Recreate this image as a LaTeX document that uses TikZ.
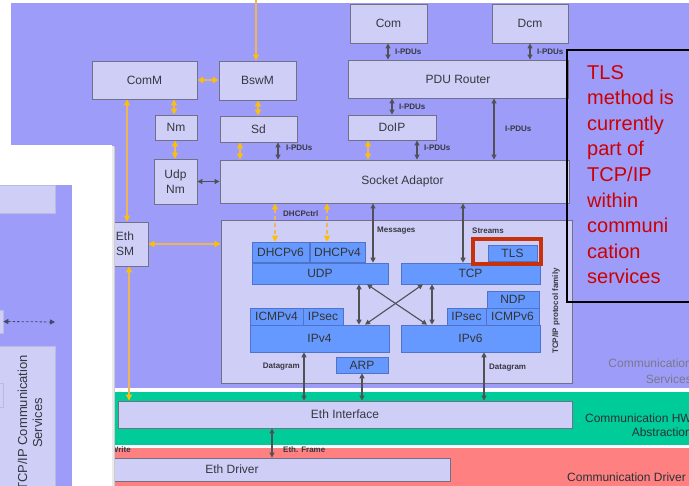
\documentclass[tikz,border=0pt]{standalone}
\usepackage{fontspec}
\setmainfont{Liberation Sans}
\usetikzlibrary{arrows.meta,fit}
\definecolor{bgp}{RGB}{157,157,249}
\definecolor{lav}{RGB}{206,206,247}
\definecolor{bdr}{RGB}{112,112,135}
\definecolor{pblue}{RGB}{102,153,255}
\definecolor{pbdr}{RGB}{80,115,200}
\definecolor{grn}{RGB}{0,204,153}
\definecolor{pnk}{RGB}{255,128,128}
\definecolor{org}{RGB}{255,192,0}
\definecolor{orgl}{RGB}{238,180,85}
\definecolor{dgr}{RGB}{80,80,85}
\definecolor{tlsr}{RGB}{200,50,10}
\definecolor{notered}{RGB}{204,0,0}
\definecolor{txt}{RGB}{55,55,65}
\definecolor{svc}{RGB}{120,120,140}
\definecolor{dk}{RGB}{40,50,55}
\definecolor{dsh}{RGB}{60,75,110}
\newcommand\mkbox[7]{\node[#6, minimum width={(#4-#2)*1pt}, minimum height={(#5-#3)*1pt}] (#1) at ({(#2+#4)/2},{(#3+#5)/2}) {#7};}
\begin{document}
\begin{tikzpicture}[x=1pt,y=-1pt,
  lbox/.style={draw=bdr, fill=lav, line width=0.9pt, text=txt, font=\fontsize{12}{14}\selectfont, inner sep=0pt, align=center},
  pbox/.style={draw=pbdr, fill=pblue, line width=0.6pt, text=black!80, font=\fontsize{12}{14}\selectfont, inner sep=0pt},
  lpbox/.style={draw=lav!80!bdr, fill=lav, line width=0.6pt, inner sep=0pt},
  garr/.style={draw=dgr, line width=1.1pt, {Triangle[length=5pt,width=5pt]}-{Triangle[length=5pt,width=5pt]}},
  oarr/.style={draw=orgl, line width=1.2pt, {Triangle[length=6pt,width=6pt,color=org]}-{Triangle[length=6pt,width=6pt,color=org]}},
  oarrs/.style={draw=orgl, line width=1.2pt, -{Triangle[length=6pt,width=6pt,color=org]}},
  odash/.style={oarr, dashed, dash pattern=on 4pt off 3pt},
  small/.style={font=\fontsize{8}{9}\selectfont\bfseries, text=txt, inner sep=0pt},
  laytxt/.style={font=\fontsize{12}{14}\selectfont, inner sep=0pt}
]
\useasboundingbox (0,0) rectangle (689,486);
% layers
\fill[white] (0,0) rectangle (689,486);
\fill[bgp] (11,3) rectangle (689,388);
\fill[grn] (11,392) rectangle (689,445);
\fill[pnk] (11,448) rectangle (689,486);
\node[laytxt, text=svc, anchor=east] (lsv1) at (692,363) {Communication};
\node[laytxt, text=svc, anchor=east] (lsv2) at (692,379) {Services};
\node[laytxt, text=dk, anchor=east] (lhw1) at (692,418) {Communication HW};
\node[laytxt, text=dk, anchor=east] (lhw2) at (692,432) {Abstraction};
\node[laytxt, text=dk, anchor=west] (ldr) at (567,477) {Communication Driver};
% upper boxes
\mkbox{Com}{350}{4}{427}{43}{lbox}{Com}
\mkbox{Dcm}{492}{4}{568}{43}{lbox}{Dcm}
\mkbox{PDU}{348}{60}{568}{98}{lbox}{PDU Router}
\mkbox{DoIP}{348}{115}{436}{140}{lbox}{DoIP}
\mkbox{ComM}{92}{61}{197}{99}{lbox}{ComM}
\mkbox{BswM}{219}{61}{296}{100}{lbox}{BswM}
\mkbox{Nm}{155}{115}{197}{140}{lbox}{Nm}
\mkbox{Sd}{220}{116}{297}{142}{lbox}{Sd}
\mkbox{UdpNm}{154}{159}{197}{204}{lbox}{Udp\\[1pt]Nm}
\node[lbox, minimum width=349pt, minimum height=43pt, label={[text=txt, font=\fontsize{12}{14}\selectfont, xshift=8pt]center:Socket Adaptor}] (SoAd) at (394.5,181.5) {};
\mkbox{EthSM}{102}{222}{148}{266}{lbox}{Eth\\[1pt]SM}
\mkbox{Fam}{221}{220}{572}{383}{lbox}{}
% protocol boxes
\mkbox{DHCPvsix}{252}{242}{309}{262}{pbox}{DHCPv6}
\mkbox{DHCPvfour}{310}{242}{365}{262}{pbox}{DHCPv4}
\mkbox{UDP}{252}{263}{388}{284}{pbox}{UDP}
\mkbox{TCP}{401}{263}{540}{284}{pbox}{TCP}
\mkbox{TLS}{488}{245}{537}{261}{pbox}{TLS}
\mkbox{NDP}{487}{291}{539}{308}{pbox}{NDP}
\mkbox{IPsecR}{447}{308}{486}{325}{pbox}{IPsec}
\mkbox{ICMPvsix}{486}{308}{539}{325}{pbox}{ICMPv6}
\mkbox{ICMPvfour}{250}{308}{303}{325}{pbox}{ICMPv4}
\mkbox{IPsecL}{303}{308}{343}{325}{pbox}{IPsec}
\mkbox{IPvfour}{250}{325}{389}{352}{pbox}{IPv4}
\mkbox{IPvsix}{401}{325}{540}{352}{pbox}{IPv6}
\mkbox{ARP}{336}{357}{388}{373}{pbox}{ARP}
\node[draw=tlsr, line width=3.2pt, fit={(473,239)(541,264)}, inner sep=0pt] (TLSframe) {};
\node[small, rotate=90] (famlbl) at (556,311) {TCP/IP protocol family};
% lower boxes
\mkbox{EthIf}{118}{401}{572}{428}{lbox}{Eth Interface}
\mkbox{EthDrv}{14}{458}{450}{481}{lbox}{Eth Driver}
% x-coordinates for connectors
\coordinate (xTop) at (256,0);
\coordinate (xa) at (174,0);
\coordinate (xb) at (258,0);
\coordinate (xc) at (175,0);
\coordinate (xd) at (240,0);
\coordinate (xe) at (278,0);
\coordinate (xf) at (388,0);
\coordinate (xg) at (530,0);
\coordinate (xh) at (392,0);
\coordinate (xi) at (494,0);
\coordinate (xj) at (368,0);
\coordinate (xk) at (417,0);
\coordinate (xl) at (127,0);
\coordinate (xm) at (129,0);
\coordinate (xn) at (275,0);
\coordinate (xo) at (327,0);
\coordinate (xp) at (373,0);
\coordinate (xq) at (463,0);
\coordinate (xr) at (359,0);
\coordinate (xs) at (432,0);
\coordinate (xt) at (367,0);
\coordinate (xu) at (427,0);
\coordinate (xv) at (423,0);
\coordinate (xw) at (365,0);
\coordinate (xx) at (304,0);
\coordinate (xy) at (362,0);
\coordinate (xz) at (484,0);
\coordinate (xfr) at (272,0);
% orange connectors
\draw[oarrs] (xTop) -- (BswM.north -| xTop);
\draw[oarr] (ComM.east) -- (BswM.west |- ComM.east);
\draw[oarr] (ComM.south -| xa) -- (Nm.north -| xa);
\draw[oarr] (BswM.south -| xb) -- (Sd.north -| xb);
\draw[oarr] (Nm.south -| xc) -- (UdpNm.north -| xc);
\draw[oarr] (Sd.south -| xd) -- (SoAd.north -| xd);
\draw[oarr] (DoIP.south -| xj) -- (SoAd.north -| xj);
\draw[oarr] (ComM.south -| xl) -- (EthSM.north -| xl);
\draw[oarr] (EthSM.east) -- (Fam.west |- EthSM.east);
\draw[oarr] (EthSM.south -| xm) -- (EthIf.north -| xm);
\draw[odash] (SoAd.south -| xn) -- (DHCPvsix.north -| xn);
\draw[odash] (SoAd.south -| xo) -- (DHCPvfour.north -| xo);
% gray connectors
\draw[garr] (Sd.south -| xe) -- (SoAd.north -| xe);
\draw[garr] (Com.south -| xf) -- (PDU.north -| xf);
\draw[garr] (Dcm.south -| xg) -- (PDU.north -| xg);
\draw[garr] (PDU.south -| xh) -- (DoIP.north -| xh);
\draw[garr] (PDU.south -| xi) -- (SoAd.north -| xi);
\draw[garr] (DoIP.south -| xk) -- (SoAd.north -| xk);
\draw[garr] (UdpNm.east) -- (SoAd.west |- UdpNm.east);
\draw[garr] (SoAd.south -| xp) -- (UDP.north -| xp);
\draw[garr] (SoAd.south -| xq) -- (TCP.north -| xq);
\draw[garr] (UDP.south -| xr) -- (IPvfour.north -| xr);
\draw[garr] (TCP.south -| xs) -- (IPvsix.north -| xs);
\draw[garr] (UDP.south -| xt) -- (IPvsix.north -| xu);
\draw[garr] (TCP.south -| xv) -- (IPvfour.north -| xw);
\draw[garr] (IPvfour.south -| xx) -- (EthIf.north -| xx);
\draw[garr] (ARP.south -| xy) -- (EthIf.north -| xy);
\draw[garr] (IPvsix.south -| xz) -- (EthIf.north -| xz);
\draw[garr] (EthIf.south -| xfr) -- (EthDrv.north -| xfr);
% small labels
\node[small, anchor=west] (l1) at (395,52) {I-PDUs};
\node[small, anchor=west] (l2) at (537,52) {I-PDUs};
\node[small, anchor=west] (l3) at (399,107) {I-PDUs};
\node[small, anchor=west] (l4) at (505,129) {I-PDUs};
\node[small, anchor=west] (l5) at (424,148) {I-PDUs};
\node[small, anchor=west] (l6) at (286,148) {I-PDUs};
\node[small, anchor=west] (l7) at (283,214) {DHCPctrl};
\node[small, anchor=west] (l8) at (377,231) {Messages};
\node[small, anchor=west] (l9) at (472,231) {Streams};
\node[small, anchor=east] (l10) at (300,367) {Datagram};
\node[small, anchor=west] (l11) at (489,368) {Datagram};
\node[small, anchor=west] (l12) at (283,450) {Eth. Frame};
\node[small, anchor=east] (l13) at (131,450) {Write};
% left overlapping panel
\fill[white] (0,145) rectangle (112,486);
\fill[black!8] (112,146) rectangle (113.5,486);
\fill[black!20] (113.5,147) rectangle (115,486);
\fill[bgp] (0,185) rectangle (72,486);
\node[lpbox, fit={(-2,185)(55,213)}] (lp1) {};
\node[lpbox, fit={(-2,310)(3,333)}] (lp2) {};
\coordinate (lpe) at (55,322);
\draw[draw=dsh, line width=0.8pt, dashed, dash pattern=on 2.5pt off 2pt, {Triangle[length=5pt,width=5pt]}-{Triangle[length=5pt,width=5pt]}] (lp2.east) -- (lpe);
\node[lpbox, fit={(-2,346)(55,490)}] (lp3) {};
\node[lpbox, fit={(-2,383)(3,407)}] (lp4) {};
\node[rotate=90, align=center, inner sep=0pt, text=txt, font=\fontsize{13}{15}\selectfont] (lpt) at (30,423) {TCP/IP Communication\\Services};
% note
\node[draw=black, line width=1.3pt, fit={(567,50)(720,302)}, inner sep=0pt] (note) {};
\node[anchor=north west, inner sep=0pt, align=left, text=notered, font=\fontsize{20}{25.6}\selectfont] (notetxt) at (587,65) {TLS\\method is\\currently\\part of\\TCP/IP\\within\\communi\\cation\\services};
\end{tikzpicture}
\end{document}
